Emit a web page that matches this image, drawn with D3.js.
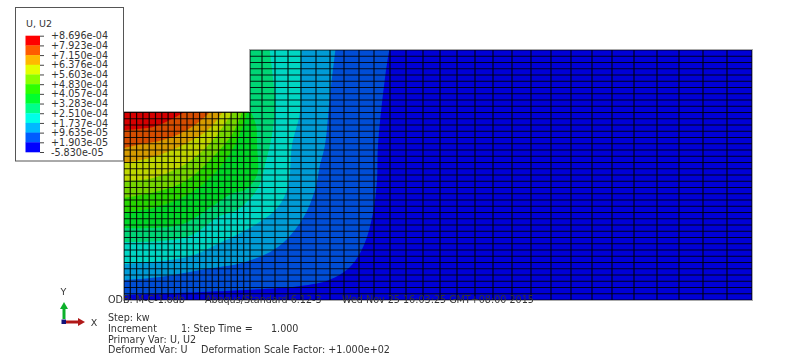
<!DOCTYPE html>
<html lang="en">
<head>
  <meta charset="UTF-8">
  <title>U2 contour</title>
  <script src="https://d3js.org/d3.v7.min.js"></script>
  <style>
    body, html { margin: 0; padding: 0; background: #fff; }
    svg { display: block; filter: blur(0.3px); }
    text { font-family: "DejaVu Sans", sans-serif; fill: #333; }
  </style>
</head>
<body>
  <svg width="800" height="354"></svg>
  <script>
    // legend, top to bottom
    const tickLabels = ["+8.696e-04", "+7.923e-04", "+7.150e-04", "+6.376e-04", "+5.603e-04", "+4.830e-04", "+4.057e-04",
      "+3.283e-04", "+2.510e-04", "+1.737e-04", "+9.635e-05", "+1.903e-05", "-5.830e-05"];
    const bandColors = ["#ff0000", "#ff5c00", "#ffb900", "#e3ff00", "#8bff00", "#2eff00", "#00ff2e",
      "#00ff8b", "#00ffe8", "#00b9ff", "#005cff", "#0000ff"];

    // part outline, model units
    const outline = [[0, 0], [628, 0], [628, 250], [126, 250], [126, 188], [0, 188]];

    // mesh lines, model units
    const leftCols = [0, 6.3, 12.6, 18.9, 25.2, 31.5, 37.8, 44.1, 50.4, 56.7, 63, 69.3, 75.6, 81.9, 88.2, 94.5, 100.8, 107.1, 113.4, 119.7];
    const rightCols = [126, 138, 151, 164, 177, 192, 206, 220, 235, 250, 266, 282, 299, 316, 333, 351, 369, 388, 407,
      427, 447, 468, 488, 510, 533, 555, 579, 603, 628];
    const rows = [0, 6.25, 12.5, 18.75, 25, 31.25, 37.5, 43.75, 50, 56.25, 62.5, 68.75, 75, 81.25, 87.5, 93.75, 100,
      106.25, 112.5, 118.75, 125, 131.25, 137.5, 143.75, 150, 156.25, 162.5, 168.75, 175, 181.25, 187.5,
      193.75, 200, 206.25, 212.5, 218.75, 225, 231.25, 237.5, 243.75, 250];

    // contour edges, each one is the lower limit of a band
    const edge005cff = [[0, 5], [121, 10], [176, 14], [205, 20], [226, 33], [240, 55], [249, 87], [253, 120], [254, 155], [261, 222], [266, 255]];
    const edge00b9ff = [[0, 20], [36, 23], [76, 30], [121, 38], [154, 53], [178, 80], [191, 110], [196, 135], [201, 155], [206, 205], [212, 255]];
    const edge00ffe8 = [[0, 36], [63, 43], [96, 57], [134, 77], [154, 93], [164, 113], [168, 155], [176, 188], [176, 222], [178, 255]];
    const edge00ff8b = [[0, 58], [63, 63], [96, 84], [113, 90], [134, 112], [141, 135], [148, 165], [151, 195], [149, 222], [145, 255]];
    const edge00ff2e = [[0, 72], [56, 75], [83, 90], [109, 107], [121, 110], [133, 125], [133, 155], [132, 175], [126, 190]];
    const edge2eff00 = [[0, 88], [29, 92], [63, 105], [89, 125], [111, 155], [124, 190]];
    const edge8bff00 = [[0, 102], [39, 110], [63, 120], [89, 143], [109, 167], [119, 190]];
    const edgee3ff00 = [[0, 119], [29, 122], [63, 137], [89, 160], [110, 190]];
    const edgeffb900 = [[0, 137], [29, 143], [63, 157], [86, 172], [100, 190]];
    const edgeff5c00 = [[0, 152], [13, 155], [39, 160], [63, 170], [83, 185], [87, 190]];
    const edgeff0000 = [[0, 170], [29, 173], [46, 180], [64, 190]];

    const edges = [edge005cff, edge00b9ff, edge00ffe8, edge00ff8b, edge00ff2e, edge2eff00, edge8bff00, edgee3ff00, edgeffb900, edgeff5c00, edgeff0000];
    const edgeColors = bandColors.slice(0, 11).reverse();

    // text at the bottom
    const infoTexts = [
      { x: 108, y: 303, t: "ODB: M-C-1.odb" },
      { x: 205, y: 303, t: "Abaqus/Standard 6.12-3" },
      { x: 342, y: 303, t: "Wed Nov 25 16:03:25 GMT+08:00 2015" },
      { x: 108, y: 321, t: "Step: kw" },
      { x: 108, y: 332, t: "Increment" },
      { x: 181, y: 332, t: "1: Step Time =" },
      { x: 271, y: 332, t: "1.000" },
      { x: 108, y: 343, t: "Primary Var: U, U2" },
      { x: 108, y: 353, t: "Deformed Var: U" },
      { x: 201, y: 353, t: "Deformation Scale Factor: +1.000e+02" }
    ];

    const svg = d3.select("svg");
    const xScale = d3.scaleLinear().domain([0, 628]).range([124, 752]);
    const yScale = d3.scaleLinear().domain([0, 250]).range([300, 50]);
    const shade = c => { let r = d3.rgb(c); return d3.rgb(r.r * 0.84, r.g * 0.84, r.b * 0.84).formatHex(); };
    const toPx = d3.line().x(d => xScale(d[0])).y(d => yScale(d[1]));
    const edgeLine = d3.line().curve(d3.curveCatmullRom).x(d => xScale(d[0])).y(d => yScale(d[1]));

    svg.append("clipPath").attr("id", "part")
      .append("path").attr("d", toPx(outline) + "Z");

    svg.append("path").attr("d", toPx(outline) + "Z")
      .attr("fill", "none").attr("stroke", "#aaa").attr("stroke-width", 2);

    let part = svg.append("g").attr("clip-path", "url(#part)");
    part.append("path").attr("d", toPx(outline) + "Z").attr("fill", shade("#0000ff"));

    part.selectAll("path.band").data(edges).enter().append("path")
      .attr("class", "band")
      .attr("fill", (d, i) => shade(edgeColors[i]))
      .attr("d", d => edgeLine(d) + `L${xScale(d[d.length - 1][0])},${yScale(260)}L${xScale(-10)},${yScale(260)}L${xScale(-10)},${yScale(d[0][1])}Z`);

    part.selectAll("line.col").data(leftCols.concat(rightCols)).enter().append("line")
      .attr("x1", d => xScale(d)).attr("x2", d => xScale(d))
      .attr("y1", yScale(0)).attr("y2", yScale(250))
      .attr("stroke", "#000").attr("stroke-width", 1.2).attr("stroke-opacity", 0.85);
    part.selectAll("line.row").data(rows).enter().append("line")
      .attr("y1", d => yScale(d)).attr("y2", d => yScale(d))
      .attr("x1", xScale(0)).attr("x2", xScale(628))
      .attr("stroke", "#000").attr("stroke-width", 1.2).attr("stroke-opacity", 0.85);

    // legend
    svg.append("rect").attr("x", 15.5).attr("y", 7.5).attr("width", 108).attr("height", 153.5)
      .attr("fill", "#fff").attr("stroke", "#555");
    svg.append("text").attr("x", 26).attr("y", 27).attr("font-size", 9.5).text("U, U2");

    const legendY = d3.scalePoint().domain(tickLabels).range([35.7, 152]);
    const bandH = legendY.step();
    svg.selectAll("rect.key").data(bandColors).enter().append("rect")
      .attr("x", 25.5).attr("width", 14.5)
      .attr("y", (d, i) => legendY(tickLabels[i])).attr("height", bandH + 0.3)
      .attr("fill", d => d);
    svg.append("g").attr("transform", "translate(40,0)")
      .call(d3.axisRight(legendY).tickSize(4).tickPadding(7))
      .call(g => g.select(".domain").remove())
      .call(g => g.selectAll("line").attr("stroke", "#444"))
      .call(g => g.selectAll("text").attr("font-size", 9.6).attr("font-family", null));

    // triad
    const arrow = (x1, y1, x2, y2, col, hx, hy) => {
      svg.append("line").attr("x1", x1).attr("y1", y1).attr("x2", x2).attr("y2", y2)
        .attr("stroke", col).attr("stroke-width", 3);
      svg.append("path").attr("fill", col)
        .attr("d", d3.line()([[x2 + hx * 7, y2 + hy * 7], [x2 + hy * 4, y2 - hx * 4], [x2 - hy * 4, y2 + hx * 4]]) + "Z");
    };
    arrow(64, 319, 64, 309, "#0cb02a", 0, -1);
    arrow(66, 322, 78, 322, "#b01818", 1, 0);
    svg.append("rect").attr("x", 61.5).attr("y", 319.5).attr("width", 4.5).attr("height", 4.5).attr("fill", "#12127a");
    svg.append("text").attr("x", 63.5).attr("y", 295).attr("text-anchor", "middle").attr("font-size", 9.5).text("Y");
    svg.append("text").attr("x", 94).attr("y", 325.5).attr("text-anchor", "middle").attr("font-size", 9.5).text("X");

    svg.selectAll("text.info").data(infoTexts).enter().append("text")
      .attr("class", "info")
      .attr("x", d => d.x).attr("y", d => d.y)
      .attr("font-size", 9.6)
      .text(d => d.t);
  </script>
</body>
</html>
